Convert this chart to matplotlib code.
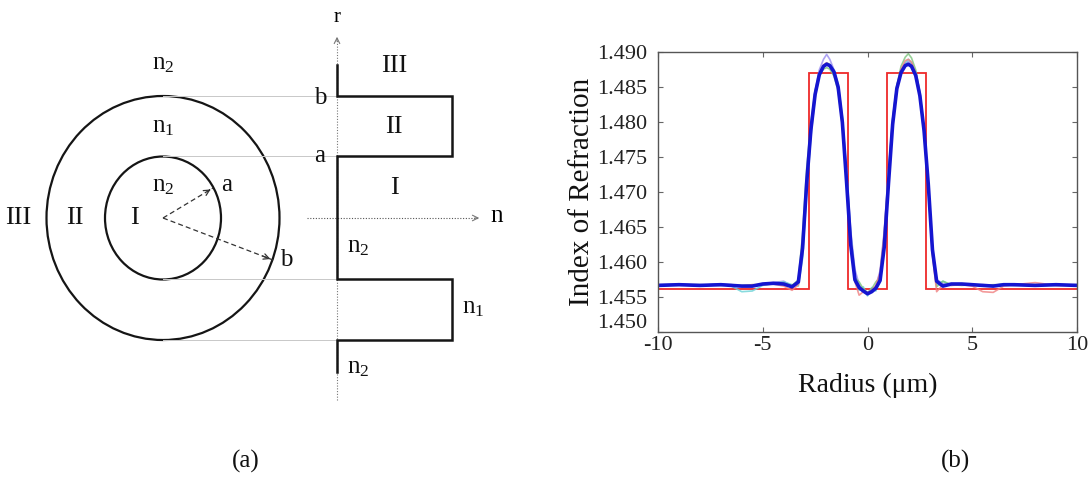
import matplotlib
matplotlib.use('Agg')
import matplotlib.pyplot as plt
from matplotlib.patches import Ellipse
from matplotlib.transforms import ScaledTranslation

plt.rcParams['font.family'] = ['Liberation Serif', 'DejaVu Serif']
plt.rcParams['mathtext.fontset'] = 'custom'
plt.rcParams['mathtext.rm'] = 'Liberation Serif'
plt.rcParams['mathtext.it'] = 'Liberation Serif:italic'
plt.rcParams['mathtext.default'] = 'rm'
plt.rcParams['axes.unicode_minus'] = False

# ---- data for panel (b) ----
radius = [-10, -9, -8, -7, -6.5, -6, -5.5, -5, -4.5, -4, -3.6, -3.3, -3.1, -2.9,
          -2.7, -2.5, -2.3, -2.1, -1.95, -1.8, -1.6, -1.4, -1.2, -1.0, -0.8, -0.6,
          -0.4, -0.2, 0, 0.2, 0.4, 0.6, 0.8, 1.0, 1.2, 1.4, 1.6, 1.8, 1.95, 2.1,
          2.3, 2.5, 2.7, 2.9, 3.1, 3.3, 3.6, 4, 4.5, 5, 5.5, 6, 6.5, 7, 8, 9, 10]

n_mean = [1.4567, 1.4568, 1.4567, 1.4568, 1.4567, 1.4566, 1.4566, 1.4569, 1.4570,
          1.4569, 1.4565, 1.4572, 1.4620, 1.4715, 1.4790, 1.4840, 1.4868, 1.4880,
          1.4883, 1.4881, 1.4872, 1.4850, 1.4800, 1.4715, 1.4625, 1.4575, 1.4564,
          1.4559, 1.4555, 1.4558, 1.4563, 1.4574, 1.4622, 1.4712, 1.4797, 1.4848,
          1.4871, 1.4881, 1.4883, 1.4880, 1.4867, 1.4838, 1.4788, 1.4712, 1.4618,
          1.4573, 1.4566, 1.4569, 1.4569, 1.4568, 1.4567, 1.4566, 1.4568, 1.4568,
          1.4567, 1.4568, 1.4567]

n_violet = [1.4568, 1.4569, 1.4567, 1.4569, 1.4568, 1.4566, 1.4567, 1.4569, 1.4571,
            1.4573, 1.4566, 1.4570, 1.4610, 1.4705, 1.4785, 1.4845, 1.4875, 1.4890,
            1.4897, 1.4890, 1.4875, 1.4852, 1.4805, 1.4730, 1.4645, 1.4590, 1.4568,
            1.4560, 1.4556, 1.4560, 1.4566, 1.4588, 1.4645, 1.4730, 1.4805, 1.4852,
            1.4874, 1.4884, 1.4887, 1.4884, 1.4872, 1.4843, 1.4790, 1.4712, 1.4622,
            1.4575, 1.4570, 1.4569, 1.4568, 1.4567, 1.4568, 1.4567, 1.4568, 1.4569,
            1.4567, 1.4568, 1.4567]

n_cyan = [1.4566, 1.4568, 1.4567, 1.4569, 1.4566, 1.4558, 1.4559, 1.4567, 1.4570,
          1.4572, 1.4568, 1.4566, 1.4605, 1.4700, 1.4780, 1.4836, 1.4866, 1.4880,
          1.4885, 1.4883, 1.4874, 1.4855, 1.4808, 1.4730, 1.4640, 1.4580, 1.4560,
          1.4565, 1.4552, 1.4564, 1.4559, 1.4582, 1.4640, 1.4728, 1.4805, 1.4853,
          1.4873, 1.4885, 1.4890, 1.4885, 1.4868, 1.4836, 1.4782, 1.4705, 1.4615,
          1.4568, 1.4573, 1.4567, 1.4569, 1.4568, 1.4566, 1.4567, 1.4569, 1.4568,
          1.4566, 1.4568, 1.4567]

n_green = [1.4567, 1.4568, 1.4568, 1.4567, 1.4568, 1.4567, 1.4568, 1.4568, 1.4569,
           1.4570, 1.4567, 1.4575, 1.4640, 1.4735, 1.4800, 1.4845, 1.4868, 1.4876,
           1.4878, 1.4876, 1.4866, 1.4845, 1.4795, 1.4718, 1.4632, 1.4578, 1.4572,
           1.4562, 1.4557, 1.4562, 1.4572, 1.4578, 1.4635, 1.4722, 1.4800, 1.4852,
           1.4880, 1.4893, 1.4898, 1.4892, 1.4875, 1.4842, 1.4786, 1.4708, 1.4612,
           1.4565, 1.4573, 1.4568, 1.4567, 1.4568, 1.4567, 1.4568, 1.4568, 1.4567,
           1.4568, 1.4567, 1.4568]

n_pink = [1.4567, 1.4568, 1.4566, 1.4568, 1.4567, 1.4566, 1.4568, 1.4568, 1.4569,
          1.4566, 1.4560, 1.4568, 1.4615, 1.4708, 1.4786, 1.4840, 1.4870, 1.4882,
          1.4885, 1.4882, 1.4872, 1.4850, 1.4802, 1.4724, 1.4632, 1.4572, 1.4553,
          1.4558, 1.4557, 1.4560, 1.4567, 1.4585, 1.4642, 1.4726, 1.4802, 1.4850,
          1.4876, 1.4888, 1.4890, 1.4886, 1.4870, 1.4840, 1.4787, 1.4708, 1.4610,
          1.4558, 1.4568, 1.4567, 1.4568, 1.4566, 1.4558, 1.4557, 1.4566, 1.4568,
          1.4571, 1.4567, 1.4567]

# ideal step-index profile
step_edges = [-10, -2.8, -0.95, 0.95, 2.8, 10]
step_levels = [1.4562, 1.4870, 1.4562, 1.4870, 1.4562]

xtick_vals = [-10, -5, 0, 5, 10]
ytick_vals = [1.450, 1.455, 1.460, 1.465, 1.470, 1.475, 1.480, 1.485, 1.490]
ytick_labels = ['1.450', '1.455', '1.460', '1.465', '1.470', '1.475', '1.480', '1.485', '1.490']

fig = plt.figure(figsize=(10.9, 4.92), dpi=100)

# ---- panel (a): schematic drawn in pixel coordinates ----
diag = fig.add_axes([0, 0, 1, 1], zorder=0)
diag.set_xlim(0, 1090)
diag.set_ylim(492, 0)
diag.axis('off')

cx, cy = 163, 218
outer_w, outer_h = 233, 244
inner_w, inner_h = 116, 123
diag.add_patch(Ellipse((cx, cy), outer_w, outer_h, fill=False, lw=1.6, ec='#151515'))
diag.add_patch(Ellipse((cx, cy), inner_w, inner_h, fill=False, lw=1.6, ec='#151515'))

# guide lines from circles to the profile
r_axis = 337
y_b, y_a, y_a2, y_b2 = 96, 156, 279, 340
for yy in (y_b, y_a, y_a2, y_b2):
    diag.plot([cx, r_axis], [yy, yy], color='#c8c8c8', lw=0.7)

# r axis and n axis (dotted, with arrow heads)
diag.plot([r_axis, r_axis], [400, 38], color='#777777', lw=0.8, ls=(0, (1, 1.5)))
diag.annotate('', xy=(r_axis, 34), xytext=(r_axis, 44),
              arrowprops=dict(arrowstyle='->', color='#777777', lw=0.8))
diag.plot([307, 478], [cy, cy], color='#555555', lw=0.8, ls=(0, (1, 1.5)))
diag.annotate('', xy=(482, cy), xytext=(472, cy),
              arrowprops=dict(arrowstyle='->', color='#777777', lw=0.8))
diag.text(r_axis, 17, 'r', fontsize=15, ha='center', va='center')
diag.text(497, cy - 2, 'n', fontsize=18, ha='center', va='center')

# index profile
right_x = 452
prof_x = [r_axis, r_axis, right_x, right_x, r_axis, r_axis, right_x, right_x, r_axis, r_axis]
prof_y = [65, y_b, y_b, y_a, y_a, y_a2, y_a2, y_b2, y_b2, 372]
diag.plot(prof_x, prof_y, color='#151515', lw=1.8, solid_joinstyle='miter')

# dashed radius arrows
for ex, ey in ((213, 188), (273, 260)):
    diag.plot([cx, ex], [cy, ey], color='#333333', lw=0.9, ls=(0, (4, 2.5)))
    diag.annotate('', xy=(ex, ey), xytext=(ex - (ex - cx) * 0.12, ey - (ey - cy) * 0.12),
                  arrowprops=dict(arrowstyle='->', color='#333333', lw=0.9))

lab = dict(ha='center', va='center', color='#111111')
diag.text(cx, 64, 'n$_2$', fontsize=18, **lab)
diag.text(cx, 127, 'n$_1$', fontsize=18, **lab)
diag.text(cx, 186, 'n$_2$', fontsize=18, **lab)
diag.text(227, 185, 'a', fontsize=18, **lab)
diag.text(286, 260, 'b', fontsize=18, **lab)
diag.text(18, 218, 'III', fontsize=19, **lab)
diag.text(75, 218, 'II', fontsize=19, **lab)
diag.text(134, 218, 'I', fontsize=19, **lab)
diag.text(394, 66, 'III', fontsize=19, **lab)
diag.text(394, 127, 'II', fontsize=19, **lab)
diag.text(394, 188, 'I', fontsize=19, **lab)
diag.text(320, 98, 'b', fontsize=18, **lab)
diag.text(320, 156, 'a', fontsize=18, **lab)
diag.text(358, 247, 'n$_2$', fontsize=18, **lab)
diag.text(473, 308, 'n$_1$', fontsize=18, **lab)
diag.text(358, 368, 'n$_2$', fontsize=18, **lab)

diag.text(246, 461, '(a)', fontsize=18, **lab)
diag.text(955, 461, '(b)', fontsize=18, **lab)

# ---- panel (b): refractive index profile ----
ax = fig.add_axes([658 / 1090, 1 - 332.3 / 492, 419 / 1090, 280 / 492], zorder=1)

ax.plot(radius, n_violet, color='#9a8cf0', lw=1.2, alpha=0.8)
ax.plot(radius, n_cyan, color='#6ad2d6', lw=1.2, alpha=0.8)
ax.plot(radius, n_green, color='#7cc47c', lw=1.2, alpha=0.8)
ax.plot(radius, n_pink, color='#f08080', lw=1.2, alpha=0.8)
ax.stairs(step_levels, step_edges, color='#ee2a2a', lw=1.3, baseline=None)
ax.plot(radius, n_mean, color='#1515d0', lw=2.6)

ax.set_xlim(-10, 10)
ax.set_ylim(1.450, 1.490)
ax.set_xticks(xtick_vals)
ax.set_xticklabels([str(v) for v in xtick_vals])
ax.set_yticks(ytick_vals)
ax.set_yticklabels(ytick_labels)

ax.tick_params(direction='in', top=True, right=True, length=3.5, width=0.8,
               color='#666666', labelsize=16, labelcolor='#222222')
ax.tick_params(axis='y', pad=8)
ax.tick_params(axis='x', pad=3)
for sp in ax.spines.values():
    sp.set_color('#555555')
    sp.set_linewidth(1.0)

# the bottom y label sits a little above its tick in the original
low = ax.get_yticklabels()[0]
low.set_transform(low.get_transform() + ScaledTranslation(0, 0.11, fig.dpi_scale_trans))

ax.set_ylabel('Index of Refraction', fontsize=21, color='#111111')
ax.yaxis.set_label_coords(-0.15, 0.5)
ax.set_xlabel('Radius (\u03bcm)', fontsize=20, color='#111111')
ax.xaxis.set_label_coords(0.5, -0.145)

fig.savefig('out.png', dpi=100)
